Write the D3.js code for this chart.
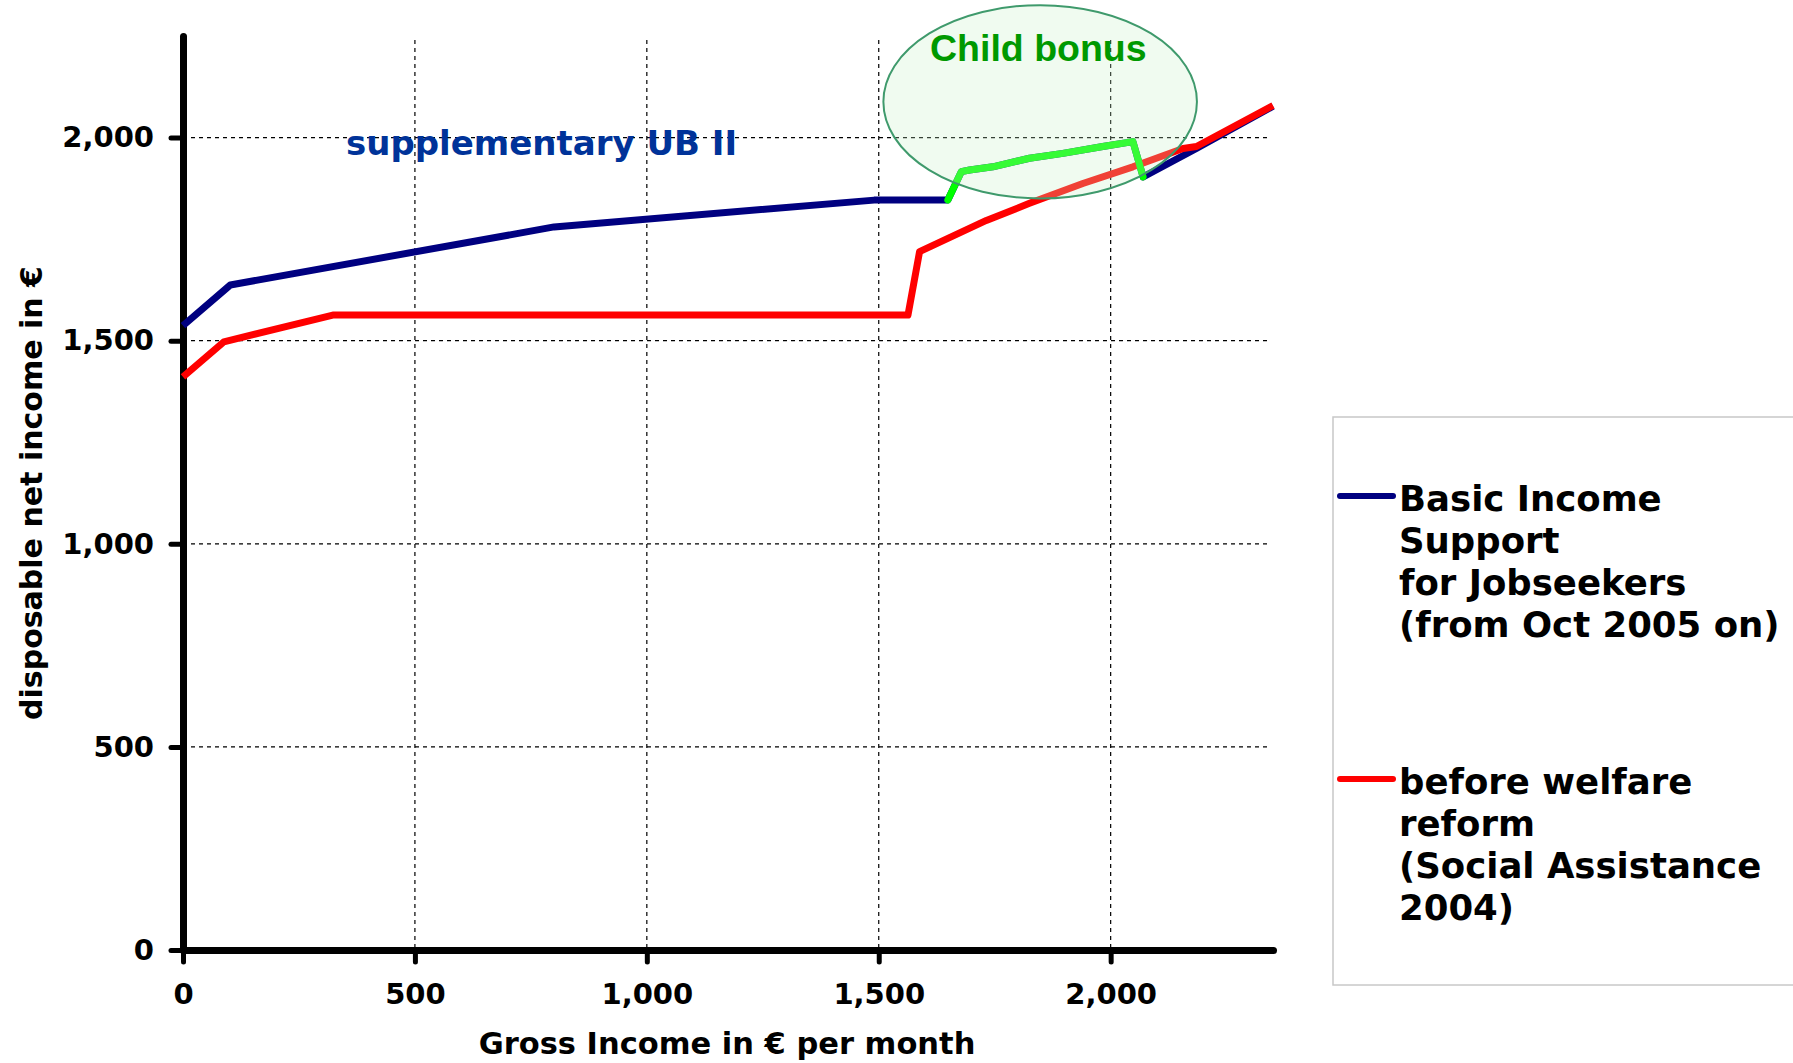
<!DOCTYPE html>
<html>
<head>
<meta charset="utf-8">
<script src="https://cdn.jsdelivr.net/npm/d3@7"></script>
<style>
  body { margin: 0; background: #fff; }
  svg { display: block; }
</style>
</head>
<body>
<div id="chart"></div>
<script>
// income curves: Basic Income Support vs. Social Assistance 2004
// ===============================================================

// gross income (x) and disposable net income (y)
var blueX = [0, 102, 800, 1490, 1649, 1678, 1696, 1746, 1825, 1897, 1983, 2048, 2070, 2185, 2350];
var blueY = [1537, 1637, 1780, 1846, 1846, 1916, 1920, 1928, 1949, 1961, 1978, 1990, 1903, 1973, 2077];

var redX = [0, 88, 323, 1563, 1588, 1732, 1825, 1940, 2048, 2156, 2185, 2350];
var redY = [1411, 1497, 1563, 1563, 1719, 1796, 1838, 1887, 1928, 1973, 1978, 2079];

// part of the blue curve that is the child bonus (drawn green)
var bonusRange = [1649, 2070];

var xTicks = [0, 500, 1000, 1500, 2000];
var yTicks = [0, 500, 1000, 1500, 2000];

var legendLabels = [
  ["Basic Income", "Support", "for Jobseekers", "(from Oct 2005 on)"],
  ["before welfare", "reform", "(Social Assistance", "2004)"]
];
var legendColours = ["#000080", "#ff0000"];

var width = 1793,
    height = 1063;

var svg = d3.select("#chart").append("svg")
    .attr("width", width)
    .attr("height", height);

var x = d3.scaleLinear().domain([0, 2350]).range([183, 1273]);
var y = d3.scaleLinear().domain([0, 2250]).range([950, 36]);

var fmt = d3.format(",");
var boldFont = "'DejaVu Sans', Verdana, sans-serif";

// dashed grid
svg.append("g").selectAll("line.h")
    .data(yTicks.filter(d => d > 0))
    .enter().append("line")
    .attr("x1", x(0)).attr("x2", x(2340))
    .attr("y1", d => y(d)).attr("y2", d => y(d))
    .attr("stroke", "#000").attr("stroke-width", 1.2)
    .attr("stroke-dasharray", "4,4");

svg.append("g").selectAll("line.v")
    .data(xTicks.filter(d => d > 0))
    .enter().append("line")
    .attr("x1", d => x(d)).attr("x2", d => x(d))
    .attr("y1", y(2240)).attr("y2", y(0))
    .attr("stroke", "#000").attr("stroke-width", 1.2)
    .attr("stroke-dasharray", "4,4");

// axes
var xAxis = svg.append("g")
    .attr("transform", "translate(0," + y(0) + ")")
    .call(d3.axisBottom(x).tickValues(xTicks).tickFormat(fmt).tickSize(12).tickSizeOuter(0).tickPadding(21));

var yAxis = svg.append("g")
    .attr("transform", "translate(" + x(0) + ",0)")
    .call(d3.axisLeft(y).tickValues(yTicks).tickFormat(fmt).tickSize(12).tickSizeOuter(0).tickPadding(17));

[xAxis, yAxis].forEach(function(a) {
  a.select(".domain").attr("stroke", "#000").attr("stroke-width", 7).attr("stroke-linecap", "round");
  a.selectAll(".tick line").attr("stroke", "#000").attr("stroke-width", 5).attr("stroke-linecap", "round");
  a.selectAll(".tick text")
    .attr("fill", "#000")
    .style("font-family", boldFont)
    .style("font-weight", "bold")
    .style("font-size", "29px");
});

// axis titles
svg.append("text")
    .attr("x", 727).attr("y", 1054)
    .attr("text-anchor", "middle")
    .style("font-family", boldFont).style("font-weight", "bold").style("font-size", "30.5px")
    .text("Gross Income in € per month");

svg.append("text")
    .attr("transform", "translate(42,493) rotate(-90)")
    .attr("text-anchor", "middle")
    .style("font-family", boldFont).style("font-weight", "bold").style("font-size", "30px")
    .text("disposable net income in €");

// curves
var line = d3.line()
    .x(d => x(d[0]))
    .y(d => y(d[1]));

var bluePts = blueX.map((v, i) => [v, blueY[i]]);
var redPts = redX.map((v, i) => [v, redY[i]]);
var greenPts = bluePts.filter(d => d[0] >= bonusRange[0] && d[0] <= bonusRange[1]);

svg.append("path").attr("d", line(bluePts))
    .attr("fill", "none").attr("stroke", "#000080").attr("stroke-width", 7).attr("stroke-linejoin", "round");
svg.append("path").attr("d", line(redPts))
    .attr("fill", "none").attr("stroke", "#ff0000").attr("stroke-width", 7).attr("stroke-linejoin", "round");
svg.append("path").attr("d", line(greenPts))
    .attr("fill", "none").attr("stroke", "#00ff00").attr("stroke-width", 7)
    .attr("stroke-linejoin", "round").attr("stroke-linecap", "round");

// child bonus ellipse (semi transparent, over the curves)
svg.append("ellipse")
    .attr("cx", x(1848)).attr("cy", y(2088))
    .attr("rx", x(338) - x(0)).attr("ry", y(0) - y(238))
    .attr("fill", "rgb(199,240,199)").attr("fill-opacity", 0.27)
    .attr("stroke", "#3f9a6c").attr("stroke-width", 2);

svg.append("text")
    .attr("x", 930).attr("y", 61)
    .attr("fill", "#009900")
    .style("font-family", "'Liberation Sans', Arial, sans-serif").style("font-weight", "bold").style("font-size", "37.5px")
    .text("Child bonus");

svg.append("text")
    .attr("x", 346).attr("y", 155)
    .attr("fill", "#003399")
    .style("font-family", boldFont).style("font-weight", "bold").style("font-size", "34px")
    .text("supplementary UB II");

// legend
var legend = svg.append("g");
legend.append("rect")
    .attr("x", 1333).attr("y", 417)
    .attr("width", 470).attr("height", 568)
    .attr("fill", "#fff").attr("stroke", "#c8c8c8").attr("stroke-width", 1.5);

var legendTop = [496, 779];
legendLabels.forEach(function(lines, i) {
  legend.append("line")
      .attr("x1", 1340).attr("x2", 1393)
      .attr("y1", legendTop[i]).attr("y2", legendTop[i])
      .attr("stroke", legendColours[i]).attr("stroke-width", 6).attr("stroke-linecap", "round");
  legend.append("g").selectAll("text")
      .data(lines)
      .enter().append("text")
      .attr("x", 1399)
      .attr("y", (d, j) => legendTop[i] + 15 + j * 42)
      .style("font-family", boldFont).style("font-weight", "bold").style("font-size", "35.5px")
      .text(d => d);
});
</script>
</body>
</html>
